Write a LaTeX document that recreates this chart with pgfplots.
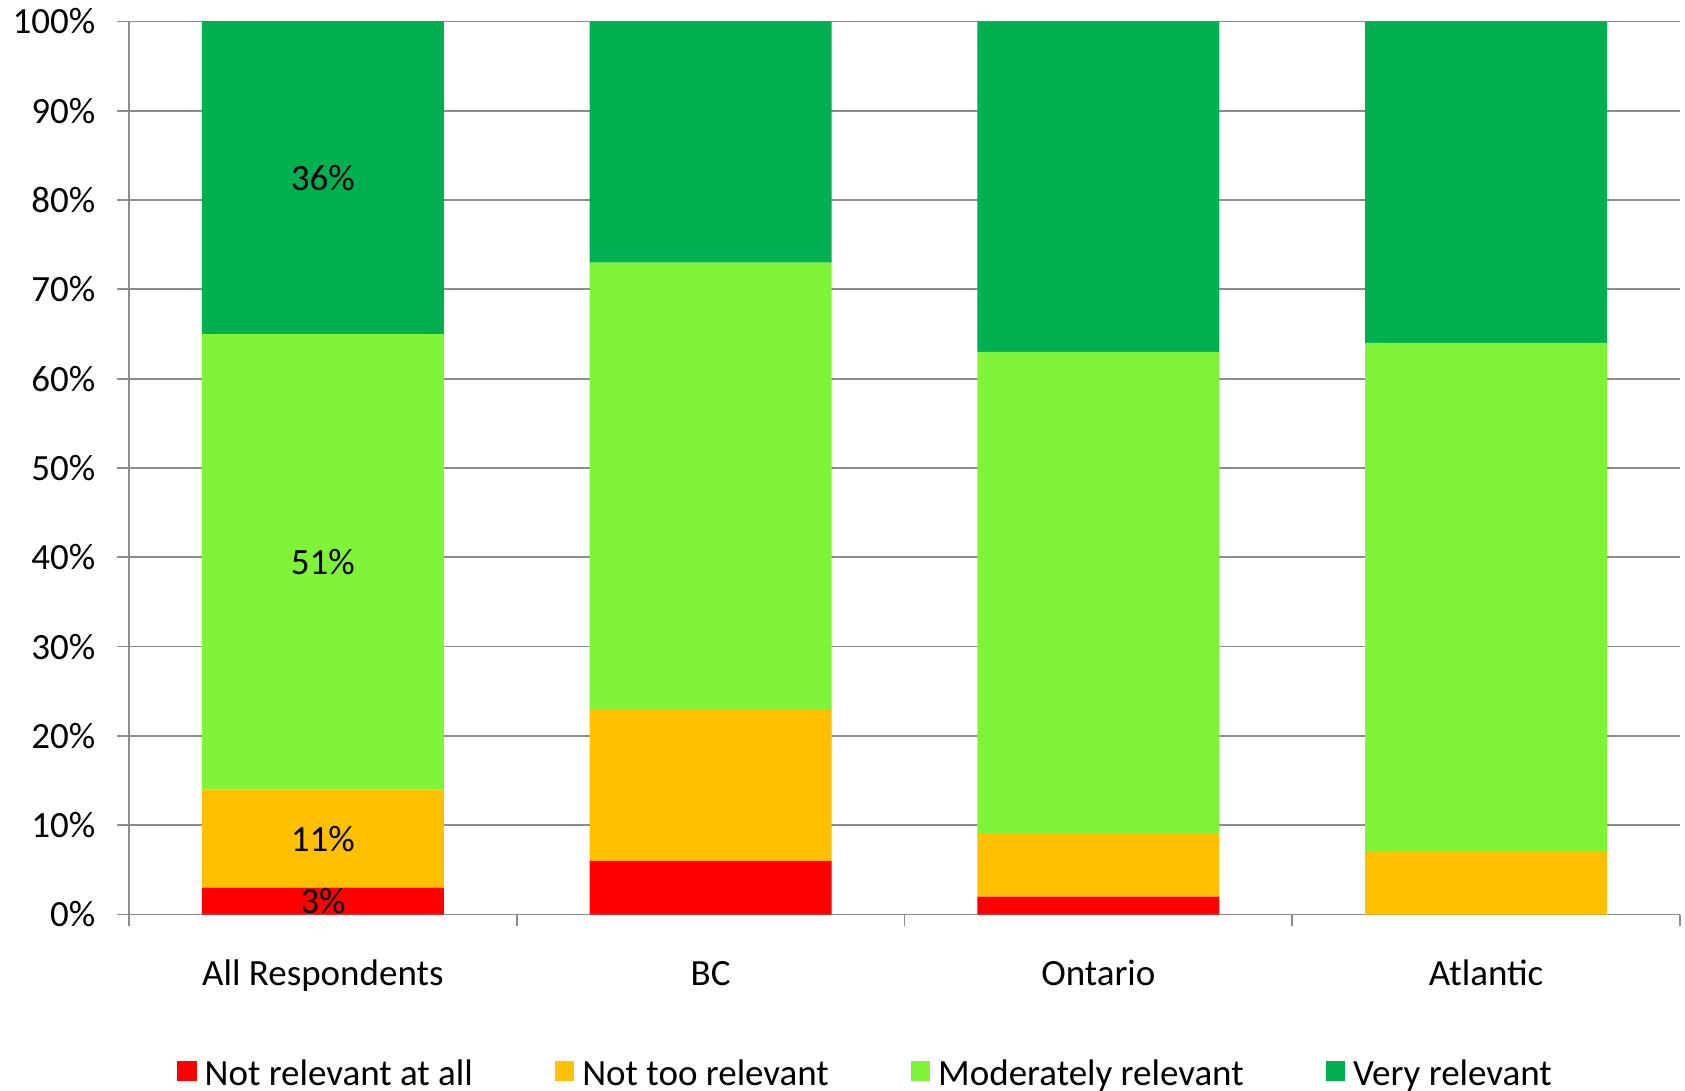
\documentclass[border=0pt]{standalone}
\usepackage{fontspec}
\setmainfont{Carlito}
\usepackage{pgfplots}
\pgfplotsset{compat=1.18}

\definecolor{cRed}{HTML}{FF0000}
\definecolor{cOrange}{HTML}{FFC000}
\definecolor{cLight}{HTML}{7FF337}
\definecolor{cDark}{HTML}{00B050}
\definecolor{cGrid}{HTML}{8C8C8C}

\pgfplotsset{
  frame/.style={
    at={(0,0)}, anchor=south west,
    scale only axis,
    width=775.5pt, height=446.5pt,
    xmin=-0.5, xmax=3.5,
    ymin=0, ymax=100,
  }
}

\begin{document}
\begin{tikzpicture}[font=\fontsize{18.5}{22}\selectfont]
\begin{axis}[
    frame,
    ybar stacked,
    bar width=121pt,
    axis x line*=bottom, axis y line*=left,
    axis line style={cGrid, line width=0.9pt},
    ytick={0,10,...,100},
    yticklabel={\pgfmathprintnumber{\tick}\%},
    /pgf/number format/assume math mode=true,
    ymajorgrids,
    grid style={cGrid, line width=0.9pt},
    tick align=outside,
    major tick length=6pt,
    tick style={cGrid, line width=0.9pt},
    yticklabel style={anchor=east, inner sep=0pt, xshift=-10.6pt},
    xtick={-0.5,0.5,1.5,2.5,3.5},
    xticklabels={},
    extra x ticks={0,1,2,3},
    extra x tick labels={All Respondents,BC,Ontario,Atlantic},
    extra x tick style={major tick length=0pt,
        xticklabel style={anchor=base, inner sep=0pt, yshift=-35.5pt}},
    legend columns=4,
    legend style={at={(0.4755,-0.1766)}, anchor=center, draw=none,
        fill=none, inner sep=0pt,
        nodes={inner sep=2pt, text depth=0pt},
        /tikz/every odd column/.append style={column sep=2pt},
        /tikz/every even column/.append style={column sep=39pt}},
    legend image code/.code={\fill[#1] (0pt,-4.2pt) rectangle (9.7pt,5.5pt);},
]
\addplot[fill=cRed, draw=none] coordinates
    {(0,3) (1,6) (2,2) (3,0)};
\addplot[fill=cOrange, draw=none] coordinates
    {(0,11) (1,17) (2,7) (3,7)};
\addplot[fill=cLight, draw=none] coordinates
    {(0,51) (1,50) (2,54) (3,57)};
\addplot[fill=cDark, draw=none] coordinates
    {(0,36) (1,27) (2,37) (3,36)};
\legend{Not relevant at all, Not too relevant, Moderately relevant, Very relevant}
\end{axis}
% value labels of the first column, at the middle of each segment
\begin{axis}[frame, hide axis]
\addplot[draw=none, mark=none, point meta=explicit symbolic,
    nodes near coords,
    every node near coord/.append style={anchor=center, text=black}]
    coordinates {(0,1.5) [3\%] (0,8.5) [11\%] (0,39.5) [51\%] (0,82.5) [36\%]};
\end{axis}
\pgfresetboundingbox
\path (-64.5pt,-88.25pt) rectangle (778pt,457.25pt);
\end{tikzpicture}
\end{document}
